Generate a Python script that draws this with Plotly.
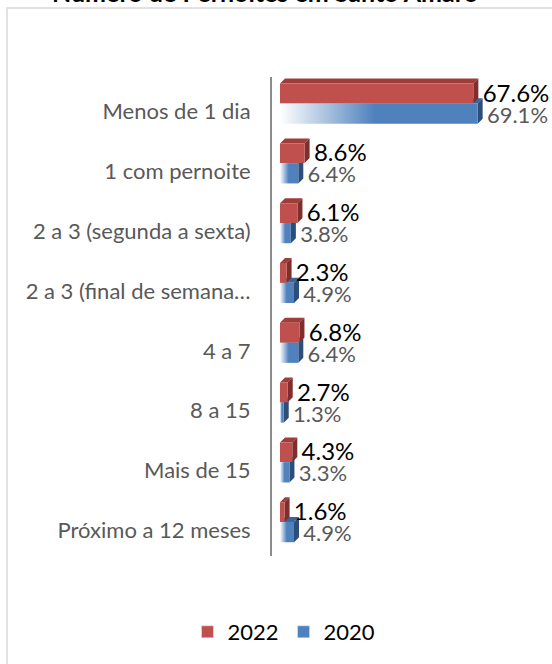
import plotly.graph_objects as go

# ---------------- data ----------------
categories = ["Menos de 1 dia", "1 com pernoite", "2 a 3 (segunda a sexta)",
              "2 a 3 (final de semana…", "4 a 7", "8 a 15", "Mais de 15",
              "Próximo a 12 meses"]
values_2022 = [67.6, 8.6, 6.1, 2.3, 6.8, 2.7, 4.3, 1.6]
values_2020 = [69.1, 6.4, 3.8, 4.9, 6.4, 1.3, 3.3, 4.9]
series_names = ["2022", "2020"]
title_text = "Número de Pernoites em Santo Amaro"

# ---------------- layout geometry ----------------
W, H = 552, 664
L, R, T, B = 272, 7, 77, 108
PX_PER_PCT = 2.86
X_MIN = -(280 - L) / PX_PER_PCT
X_MAX = X_MIN + (W - L - R) / PX_PER_PCT
Y_TOP, Y_BOT = -0.58, 7.43
CAT_PX = (H - T - B) / (Y_BOT - Y_TOP)
DX = 5 / PX_PER_PCT
DY = 5 / CAT_PX

RED_TOP, SPLIT, BLUE_BOT = -0.47, -0.14, 0.20

RED = "#C0504D"; RED_TOPC = "#9E3D3A"; RED_SIDE = "#7F2E2C"
BLUE = "#4F81BD"; BLUE_TOPC = "#3A659A"; BLUE_SIDE = "#2C4E78"
FONT = "Lato"

fig = go.Figure()


def poly_trace(polys, color):
    xs, ys = [], []
    for p in polys:
        for (a, b) in p:
            xs.append(a); ys.append(b)
        xs.append(p[0][0]); ys.append(p[0][1])
        xs.append(None); ys.append(None)
    return go.Scatter(x=xs, y=ys, mode="lines", fill="toself", fillcolor=color,
                      line=dict(width=0, color=color), hoverinfo="skip",
                      showlegend=False)


def faces(v, y0, y1):
    front = [(0, y0), (v, y0), (v, y1), (0, y1)]
    top = [(0, y0), (DX, y0 - DY), (v + DX, y0 - DY), (v, y0)]
    side = [(v, y0), (v + DX, y0 - DY), (v + DX, y1 - DY), (v, y1)]
    return front, top, side

# blue (2020) bars, drawn first
b_tops, b_sides, b_fronts = [], [], []
for i, v in enumerate(values_2020):
    f, t, s = faces(v, i + SPLIT, i + BLUE_BOT)
    b_tops.append(t); b_sides.append(s); b_fronts.append(f)
fig.add_trace(poly_trace(b_tops, BLUE_TOPC))
fig.add_trace(poly_trace(b_sides, BLUE_SIDE))
for f in b_fronts:
    xs = [p[0] for p in f] + [f[0][0]]
    ys = [p[1] for p in f] + [f[0][1]]
    fig.add_trace(go.Scatter(
        x=xs, y=ys, mode="lines", fill="toself",
        fillgradient=dict(type="horizontal",
                          colorscale=[[0, "#FFFFFF"], [0.48, BLUE], [1, BLUE]]),
        line=dict(width=0, color=BLUE), hoverinfo="skip", showlegend=False))

# red (2022) bars
r_tops, r_sides, r_fronts = [], [], []
for i, v in enumerate(values_2022):
    f, t, s = faces(v, i + RED_TOP, i + SPLIT)
    r_tops.append(t); r_sides.append(s); r_fronts.append(f)
fig.add_trace(poly_trace(r_tops, RED_TOPC))
fig.add_trace(poly_trace(r_sides, RED_SIDE))
fig.add_trace(poly_trace(r_fronts, RED))

# data labels
fig.add_trace(go.Scatter(
    x=[v + DX + 1.5 for v in values_2022],
    y=[i - 0.27 for i in range(len(categories))],
    text=[f"{v:.1f}%" for v in values_2022], mode="text",
    textposition="middle right", cliponaxis=False,
    textfont=dict(family=FONT, size=24, color="#000000"),
    hoverinfo="skip", showlegend=False))
fig.add_trace(go.Scatter(
    x=[v + DX + 1.5 for v in values_2020],
    y=[i + 0.09 for i in range(len(categories))],
    text=[f"{v:.1f}%" for v in values_2020], mode="text",
    textposition="middle right", cliponaxis=False,
    textfont=dict(family=FONT, size=22, color="#595959"),
    hoverinfo="skip", showlegend=False))

# legend entries
fig.add_trace(go.Bar(x=[None], y=[None], orientation="h", name=series_names[0],
                     marker_color=RED, showlegend=True))
fig.add_trace(go.Bar(x=[None], y=[None], orientation="h", name=series_names[1],
                     marker_color=BLUE, showlegend=True))


def px_to_paper_x(px):
    return (px - L) / (W - L - R)


def px_to_paper_y(py):
    return (H - B - py) / (H - T - B)

fig.add_shape(type="rect", xref="paper", yref="paper",
              x0=px_to_paper_x(7), x1=px_to_paper_x(W + 20),
              y0=px_to_paper_y(H + 20), y1=px_to_paper_y(8),
              line=dict(color="#D9D9D9", width=1.5), layer="below")

fig.update_layout(
    width=W, height=H,
    margin=dict(l=L, r=R, t=T, b=B),
    paper_bgcolor="white", plot_bgcolor="white",
    title=dict(text=f"<b>{title_text}</b>", x=265 / W, xanchor="center",
               y=(H - 2) / H, yanchor="bottom", yref="container",
               font=dict(family=FONT, size=25, color="#000000")),
    xaxis=dict(range=[X_MIN, X_MAX], visible=False, fixedrange=True),
    yaxis=dict(range=[Y_BOT, Y_TOP], tickvals=list(range(len(categories))),
               ticktext=categories, showgrid=False, zeroline=False,
               showline=True, linecolor="#8C8C8C", linewidth=2, ticks="",
               ticklabelstandoff=15, fixedrange=True,
               tickfont=dict(family=FONT, size=22, color="#595959")),
    legend=dict(orientation="h", x=px_to_paper_x(284), xanchor="center",
                y=px_to_paper_y(632), yanchor="middle",
                font=dict(family=FONT, size=22, color="#000000"),
                bgcolor="rgba(0,0,0,0)"),
    showlegend=True,
)

fig.write_html("out.html", config={"displayModeBar": False},
               post_script="document.body.style.margin='0';document.body.style.padding='0';")
